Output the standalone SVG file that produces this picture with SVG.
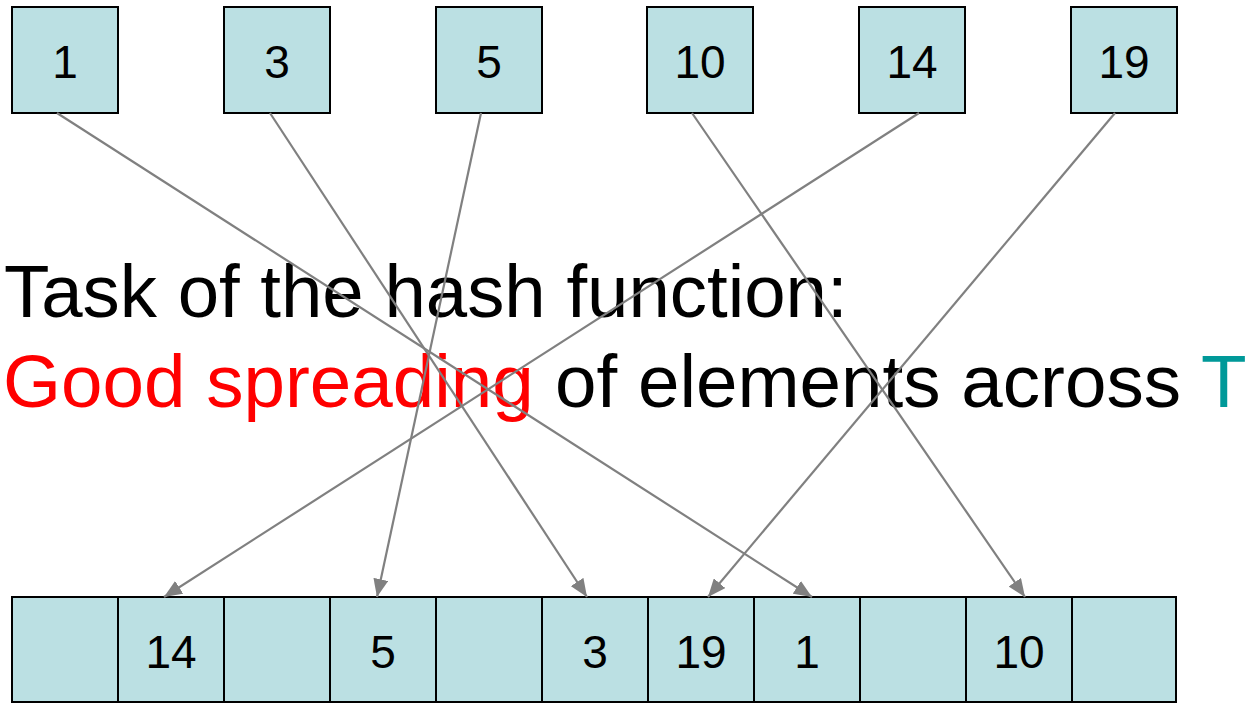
<svg xmlns="http://www.w3.org/2000/svg" width="1249" height="703" viewBox="0 0 1249 703">
<style>
.box{fill:#BBE0E3;stroke:#000;stroke-width:2}
.num{font-family:"Liberation Sans",Arial,sans-serif;font-size:46px;fill:#000;text-anchor:middle}
.big{font-family:"Liberation Sans",Arial,sans-serif}
.conn{stroke:#808080;stroke-width:2.2;fill:none;marker-end:url(#ah)}
</style>
<defs>
<marker id="ah" markerUnits="userSpaceOnUse" markerWidth="19" markerHeight="15" refX="18" refY="7.5" orient="auto">
<path d="M0,0 L18,7.5 L0,15 Z" fill="#808080"/>
</marker>
</defs>
<rect width="1249" height="703" fill="#fff"/>
<g id="text">
<text class="big" x="4" y="317" font-size="74.4" fill="#000">Task of the hash function:</text>
<text class="big" y="407" font-size="74.6"><tspan x="3" fill="#FF0000">Good spreading</tspan><tspan x="555" fill="#000">of elements across</tspan><tspan x="1201" fill="#009999">T</tspan></text>
</g>
<g id="top-1"><rect class="box" x="12" y="7" width="106" height="106"/><text class="num" x="65" y="78">1</text></g>
<g id="top-3"><rect class="box" x="224" y="7" width="106" height="106"/><text class="num" x="277" y="78">3</text></g>
<g id="top-5"><rect class="box" x="436" y="7" width="106" height="106"/><text class="num" x="489" y="78">5</text></g>
<g id="top-10"><rect class="box" x="647" y="7" width="106" height="106"/><text class="num" x="700" y="78">10</text></g>
<g id="top-14"><rect class="box" x="859" y="7" width="106" height="106"/><text class="num" x="912" y="78">14</text></g>
<g id="top-19"><rect class="box" x="1071" y="7" width="106" height="106"/><text class="num" x="1124" y="78">19</text></g>
<g id="table">
<rect class="box" x="12" y="597" width="106" height="105"/>
<rect class="box" x="118" y="597" width="106" height="105"/>
<rect class="box" x="224" y="597" width="106" height="105"/>
<rect class="box" x="330" y="597" width="106" height="105"/>
<rect class="box" x="436" y="597" width="106" height="105"/>
<rect class="box" x="542" y="597" width="106" height="105"/>
<rect class="box" x="648" y="597" width="106" height="105"/>
<rect class="box" x="754" y="597" width="106" height="105"/>
<rect class="box" x="860" y="597" width="106" height="105"/>
<rect class="box" x="966" y="597" width="106" height="105"/>
<rect class="box" x="1072" y="597" width="104" height="105"/>
<text class="num" x="171" y="668">14</text>
<text class="num" x="383" y="668">5</text>
<text class="num" x="595" y="668">3</text>
<text class="num" x="701" y="668">19</text>
<text class="num" x="807" y="668">1</text>
<text class="num" x="1019" y="668">10</text>
</g>
<g id="connectors">
<line class="conn" x1="57" y1="113" x2="812" y2="597"/>
<line class="conn" x1="270" y1="113" x2="587" y2="597"/>
<line class="conn" x1="481" y1="113" x2="377" y2="597"/>
<line class="conn" x1="692" y1="113" x2="1025" y2="597"/>
<line class="conn" x1="919" y1="113" x2="164" y2="597"/>
<line class="conn" x1="1115" y1="113" x2="708" y2="597"/>
</g>
</svg>
